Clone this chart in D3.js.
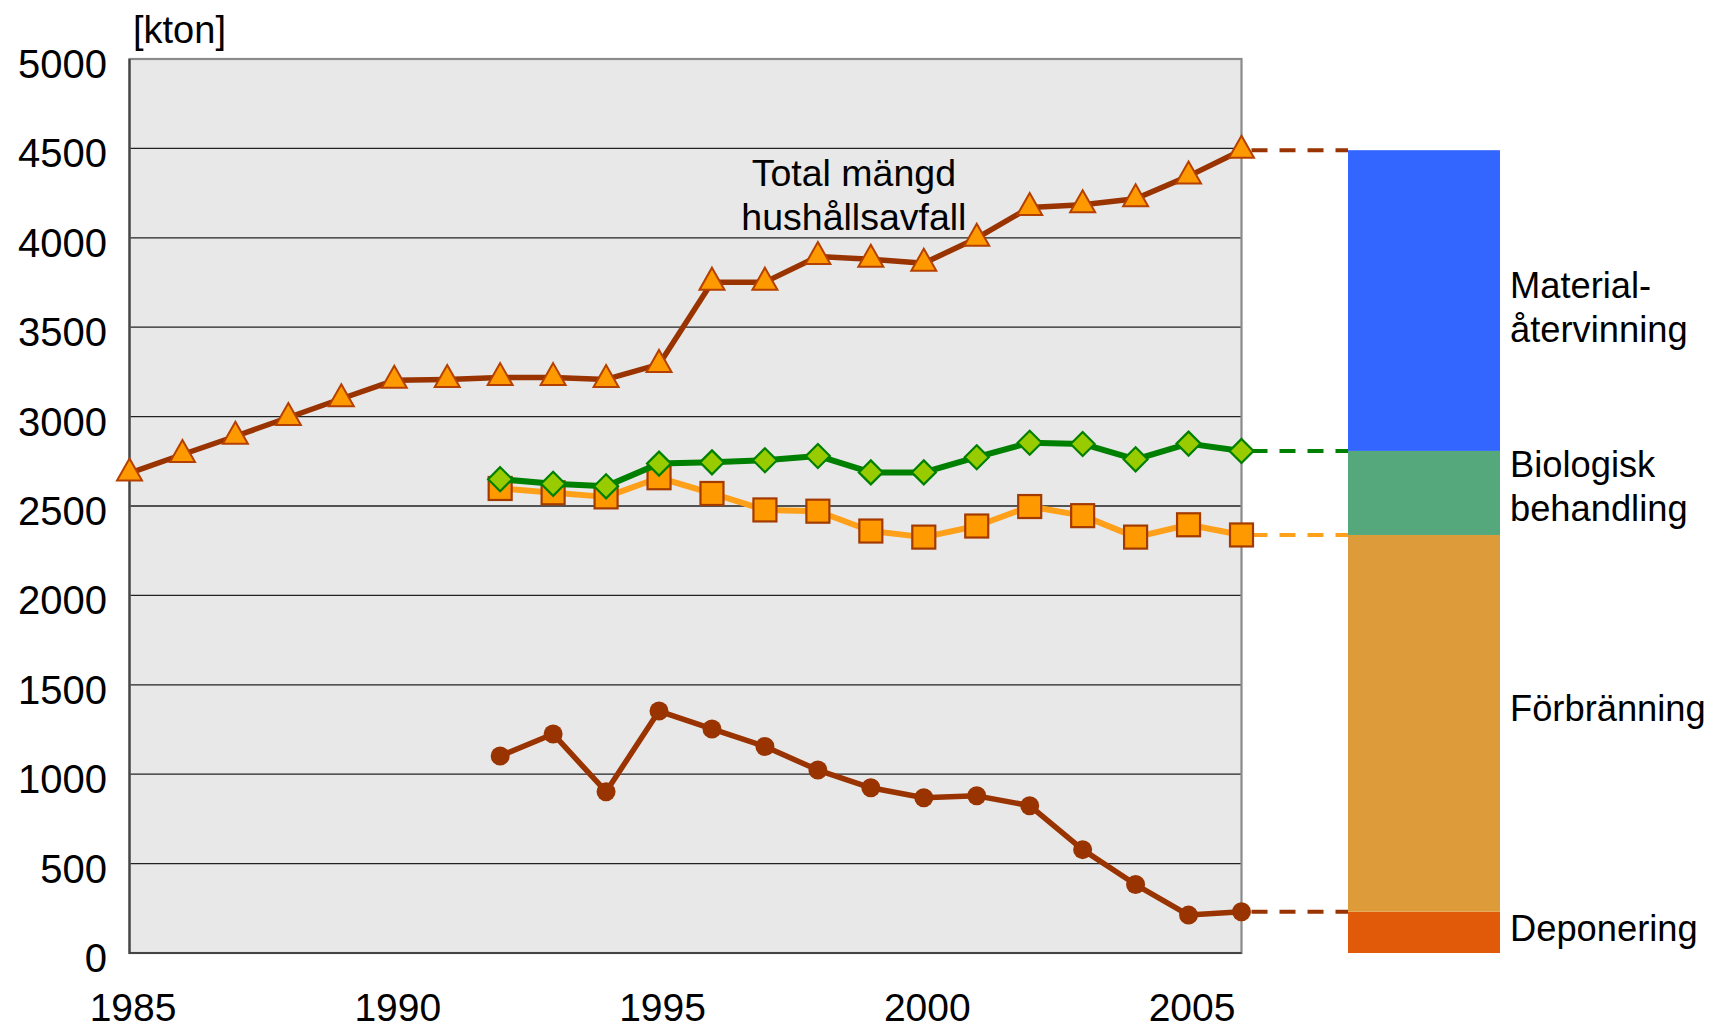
<!DOCTYPE html>
<html>
<head>
<meta charset="utf-8">
<script src="https://cdn.jsdelivr.net/npm/d3@7"></script>
<style>
  html, body { margin: 0; padding: 0; background: #ffffff; }
  svg { display: block; }
  text { font-family: "Liberation Sans", Arial, sans-serif; fill: #000; }
</style>
</head>
<body>
<svg id="chart" width="1715" height="1030"></svg>
<script>
// Hushållsavfall i Sverige, kton per år
const yearsTotal = d3.range(1985, 2007);
const totalAmount = [2684, 2788, 2890, 2995, 3100, 3203, 3208, 3218, 3218, 3208, 3292,
                     3752, 3752, 3895, 3880, 3858, 3998, 4170, 4185, 4218, 4345, 4490];

const yearsTreatment = d3.range(1992, 2007);
// Kumulativa nivåer: deponering, + förbränning, + biologisk behandling
const biologicalCum = [2650, 2624, 2610, 2737, 2744, 2756, 2780, 2688, 2688, 2773, 2854, 2847, 2761, 2849, 2808];
const incinerationCum = [2598, 2574, 2551, 2658, 2570, 2478, 2471, 2360, 2326, 2388, 2497, 2446, 2326, 2395, 2338];
const landfill = [1102, 1225, 902, 1353, 1253, 1155, 1023, 924, 868, 879, 824, 578, 383, 212, 231];

const yTicks = [0, 500, 1000, 1500, 2000, 2500, 3000, 3500, 4000, 4500, 5000];
const xTicks = [1985, 1990, 1995, 2000, 2005];

const segmentNames = [
  ["Deponering"],
  ["Förbränning"],
  ["Biologisk", "behandling"],
  ["Material-", "återvinning"]
];
const segmentColors = ["#E05A0A", "#DD9B3A", "#55A87C", "#3366FF"];

const svg = d3.select("#chart");

const x = d3.scaleLinear().domain([1985, 2006]).range([129.5, 1241.5]);
const y = d3.scaleLinear().domain([0, 5000]).range([953, 59]);

// plot background
svg.append("rect")
  .attr("x", x(1985)).attr("y", y(5000))
  .attr("width", x(2006) - x(1985)).attr("height", y(0) - y(5000))
  .attr("fill", "#E8E8E8");

// horizontal grid
svg.append("g")
  .selectAll("line")
  .data(yTicks.filter(v => v > 0 && v < 5000))
  .join("line")
  .attr("x1", x(1985)).attr("x2", x(2006))
  .attr("y1", d => y(d)).attr("y2", d => y(d))
  .attr("stroke", "#222").attr("stroke-width", 1.3);

// frame
svg.append("rect")
  .attr("x", x(1985)).attr("y", y(5000))
  .attr("width", x(2006) - x(1985)).attr("height", y(0) - y(5000))
  .attr("fill", "none").attr("stroke", "#8a8a8a").attr("stroke-width", 2.2);
svg.append("path")
  .attr("d", `M${x(1985)},${y(5000)}V${y(0)}H${x(2006)}`)
  .attr("fill", "none").attr("stroke", "#444").attr("stroke-width", 2.2);

// y axis labels
const yAxis = d3.axisLeft(y).tickValues(yTicks).tickFormat(d3.format("d")).tickSize(0).tickPadding(0);
const gy = svg.append("g").attr("transform", `translate(107,0)`).call(yAxis);
gy.select(".domain").remove();
gy.selectAll("text")
  .attr("font-size", 40)
  .attr("fill", "#000")
  .attr("dy", "0.46em");

// x axis labels
const xAxis = d3.axisBottom(x).tickValues(xTicks).tickFormat(d3.format("d")).tickSize(0).tickPadding(0);
const gx = svg.append("g").attr("transform", `translate(3,993)`).call(xAxis);
gx.select(".domain").remove();
gx.selectAll("text")
  .attr("font-size", 39)
  .attr("fill", "#000")
  .attr("dy", "0.72em");

// unit
svg.append("text")
  .attr("x", 133).attr("y", 43)
  .attr("font-size", 38)
  .text("[kton]");

// stacked bar for the latest year
const lastIdx = yearsTreatment.length - 1;
const levels = [0, landfill[lastIdx], incinerationCum[lastIdx], biologicalCum[lastIdx], totalAmount[totalAmount.length - 1]];
const barLeft = x(2006) + 106.5;
const barWidth = 152;

const segs = segmentNames.map((name, i) => ({
  name, color: segmentColors[i], lo: levels[i], hi: levels[i + 1]
}));

svg.append("g")
  .selectAll("rect")
  .data(segs)
  .join("rect")
  .attr("x", barLeft)
  .attr("y", d => y(d.hi))
  .attr("width", barWidth)
  .attr("height", d => y(d.lo) - y(d.hi))
  .attr("fill", d => d.color);

// segment labels (first-line baseline offset from segment middle)
const labelShift = [9, -2, -15.5, -3];
segs.forEach((s, i) => {
  const mid = (y(s.lo) + y(s.hi)) / 2;
  const t = svg.append("text")
    .attr("x", barLeft + barWidth + 10)
    .attr("y", mid + labelShift[i])
    .attr("font-size", 36.3);
  s.name.forEach((line, j) => {
    t.append("tspan")
      .attr("x", barLeft + barWidth + 10)
      .attr("dy", j === 0 ? 0 : 44)
      .text(line);
  });
});

// dashed links from the last value to the bar
const links = [
  { v: totalAmount[totalAmount.length - 1], c: "#993300" },
  { v: biologicalCum[lastIdx], c: "#008000" },
  { v: incinerationCum[lastIdx], c: "#FFA01A" },
  { v: landfill[lastIdx], c: "#993300" }
];
svg.append("g")
  .selectAll("line")
  .data(links)
  .join("line")
  .attr("x1", x(2006) + 10).attr("x2", barLeft)
  .attr("y1", d => y(d.v)).attr("y2", d => y(d.v))
  .attr("stroke", d => d.c)
  .attr("stroke-width", 4)
  .attr("stroke-dasharray", "16,12");

const line = d3.line().x(d => x(d[0])).y(d => y(d[1]));

// Deponering
const depData = yearsTreatment.map((yr, i) => [yr, landfill[i]]);
svg.append("path").datum(depData).attr("d", line)
  .attr("fill", "none").attr("stroke", "#993300").attr("stroke-width", 5.5).attr("stroke-linejoin", "round");
svg.append("g").selectAll("circle").data(depData).join("circle")
  .attr("cx", d => x(d[0])).attr("cy", d => y(d[1])).attr("r", 9.5)
  .attr("fill", "#993300");

// Förbränning
const incData = yearsTreatment.map((yr, i) => [yr, incinerationCum[i]]);
svg.append("path").datum(incData).attr("d", line)
  .attr("fill", "none").attr("stroke", "#FFA01A").attr("stroke-width", 6).attr("stroke-linejoin", "round");
svg.append("g").selectAll("rect").data(incData).join("rect")
  .attr("x", d => x(d[0]) - 11.5).attr("y", d => y(d[1]) - 11.5)
  .attr("width", 23).attr("height", 23)
  .attr("fill", "#FF9900").attr("stroke", "#A33B00").attr("stroke-width", 2.2);

// Biologisk behandling
const bioData = yearsTreatment.map((yr, i) => [yr, biologicalCum[i]]);
svg.append("path").datum(bioData).attr("d", line)
  .attr("fill", "none").attr("stroke", "#008000").attr("stroke-width", 6).attr("stroke-linejoin", "round");
svg.append("g").selectAll("path").data(bioData).join("path")
  .attr("transform", d => `translate(${x(d[0])},${y(d[1])})`)
  .attr("d", "M0,-12L12,0L0,12L-12,0Z")
  .attr("fill", "#99CC00").attr("stroke", "#008000").attr("stroke-width", 2.2);

// Total mängd
const totData = yearsTotal.map((yr, i) => [yr, totalAmount[i]]);
svg.append("path").datum(totData).attr("d", line)
  .attr("fill", "none").attr("stroke", "#993300").attr("stroke-width", 5.5).attr("stroke-linejoin", "round");
svg.append("g").selectAll("path").data(totData).join("path")
  .attr("transform", d => `translate(${x(d[0])},${y(d[1])})`)
  .attr("d", "M0,-14.5L12.5,7.5L-12.5,7.5Z")
  .attr("fill", "#FF9900").attr("stroke", "#B54000").attr("stroke-width", 2);

// annotation for the total series
const ann = svg.append("text")
  .attr("x", x(1998.68)).attr("y", 186)
  .attr("text-anchor", "middle")
  .attr("font-size", 37.5);
ann.append("tspan").attr("x", x(1998.68)).attr("dy", 0).text("Total mängd");
ann.append("tspan").attr("x", x(1998.68)).attr("dy", 44).text("hushållsavfall");
</script>
</body>
</html>
